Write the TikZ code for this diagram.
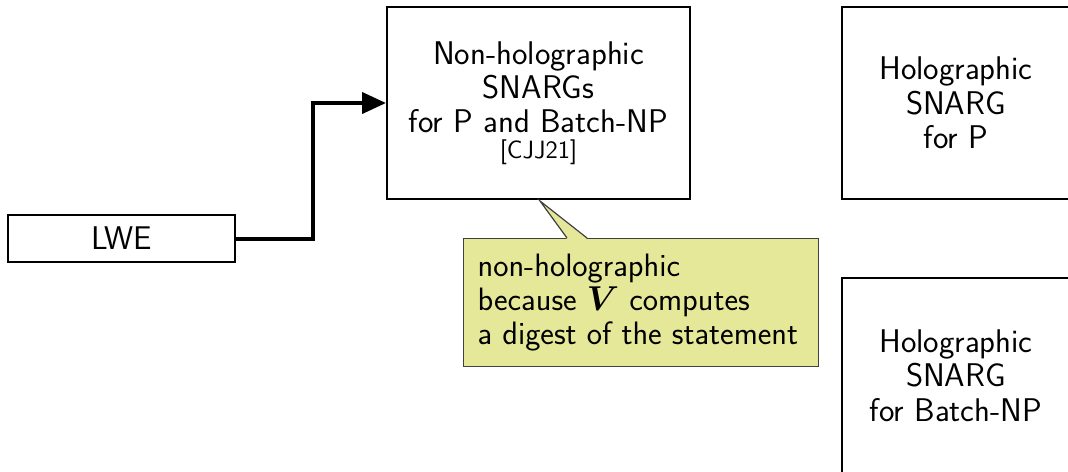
\documentclass[tikz,border=0pt]{standalone}
\usepackage{amsmath,bm}
\usetikzlibrary{arrows.meta,calc}
\definecolor{notefill}{RGB}{229,232,152}
\begin{document}
\begin{tikzpicture}[x=0.5pt,y=-0.5pt,
  font=\sffamily\fontsize{16.4}{17.2}\selectfont,
  box/.style={draw, line width=1pt, align=center, inner sep=0pt},
  note/.style={draw=black!75, fill=notefill, line width=0.6pt,
    font=\sffamily\fontsize{16.2}{17.2}\selectfont,
    text width=163.5pt, align=flush left, inner xsep=7pt, inner ysep=0pt},
  link/.style={line width=2pt, -{Triangle[length=12pt,width=10.5pt]}}]
\useasboundingbox (0,0) rectangle (1068,471);

% explanatory note with its pointer
\node[note, anchor=north west, minimum height=64pt] (cjnote) at (463,238)
  {non-holographic\\because $\bm{V}$ computes\\a digest of the statement};

% boxes
\node[box, minimum width=113.5pt, minimum height=23.5pt] (lwe) at (121.5,238.5) {LWE};
\node[box, minimum width=151.5pt, minimum height=96pt] (nh) at (538.5,103)
  {Non-holographic\\SNARGs\\for P and Batch-NP\\[-4.5pt]{\fontsize{12.5}{14}\selectfont [CJJ21]}};
\node[box, minimum width=114pt, minimum height=96pt] (hp) at (956,103)
  {Holographic\\SNARG\\for P};
\node[box, minimum width=114pt, minimum height=97.5pt] (hb) at (956,375.5)
  {Holographic\\SNARG\\for Batch-NP};

\coordinate (tip) at ($(nh.south)+(1.5,1)$);
\coordinate (b1) at ($(cjnote.north west)+(104,0)$);
\coordinate (b2) at ($(cjnote.north west)+(124,0)$);
\fill[notefill] (tip) -- ($(b1)+(0,1)$) -- ($(b2)+(0,1)$) -- cycle;
\draw[black!75, line width=0.6pt] (b1) -- (tip) -- (b2);

% reduction arrow
\draw[link] (lwe.east) -- ++(77,0) |- (nh.west);
\end{tikzpicture}
\end{document}
